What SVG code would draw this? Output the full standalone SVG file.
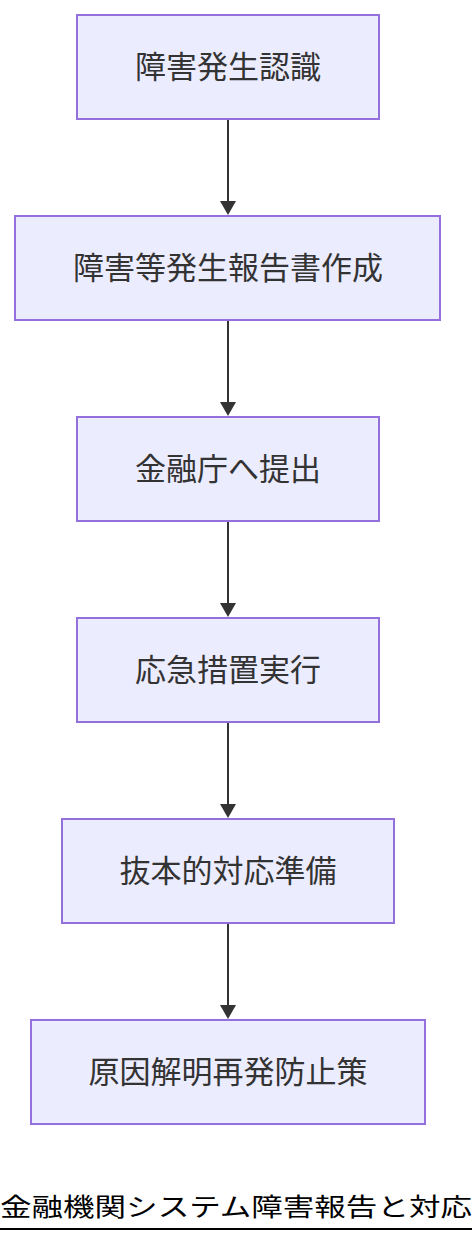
<svg xmlns="http://www.w3.org/2000/svg" width="472" height="1244" viewBox="0 0 472 1244">
<style>
.node rect{fill:#ECECFF;stroke:#9370DB;stroke-width:2}
.node text{font-family:"Noto Sans CJK JP","Noto Sans",sans-serif;font-size:31px;fill:#333;text-anchor:middle}
.edge line{stroke:#333;stroke-width:2}
.edge polygon{fill:#333}
.title{font-family:"Noto Sans CJK JP","Noto Sans",sans-serif;font-size:25px;fill:#000}
</style>
<rect width="472" height="1244" fill="#fff"/>
<g id="connectors" class="edge">
<line x1="228" y1="120" x2="228" y2="203"/><polygon points="220,201 236,201 228,215"/>
<line x1="228" y1="321" x2="228" y2="404"/><polygon points="220,402 236,402 228,416"/>
<line x1="228" y1="522" x2="228" y2="605"/><polygon points="220,603 236,603 228,617"/>
<line x1="228" y1="723" x2="228" y2="806"/><polygon points="220,804 236,804 228,818"/>
<line x1="228" y1="924" x2="228" y2="1007"/><polygon points="220,1005 236,1005 228,1019"/>
</g>
<g id="n1" class="node"><rect x="77" y="15" width="302" height="104"/><text x="228" y="78">障害発生認識</text></g>
<g id="n2" class="node"><rect x="15" y="216" width="425" height="104"/><text x="228" y="279">障害等発生報告書作成</text></g>
<g id="n3" class="node"><rect x="77" y="417" width="302" height="104"/><text x="228" y="480">金融庁へ提出</text></g>
<g id="n4" class="node"><rect x="77" y="618" width="302" height="104"/><text x="228" y="681">応急措置実行</text></g>
<g id="n5" class="node"><rect x="62" y="819" width="332" height="104"/><text x="228" y="882">抜本的対応準備</text></g>
<g id="n6" class="node"><rect x="31" y="1020" width="394" height="104"/><text x="228" y="1083">原因解明再発防止策</text></g>
<g id="title">
<text class="title" x="0" y="1216" textLength="472" lengthAdjust="spacingAndGlyphs">金融機関システム障害報告と対応</text>
<line x1="0" y1="1229" x2="472" y2="1229" stroke="#000" stroke-width="2"/>
</g>
</svg>
